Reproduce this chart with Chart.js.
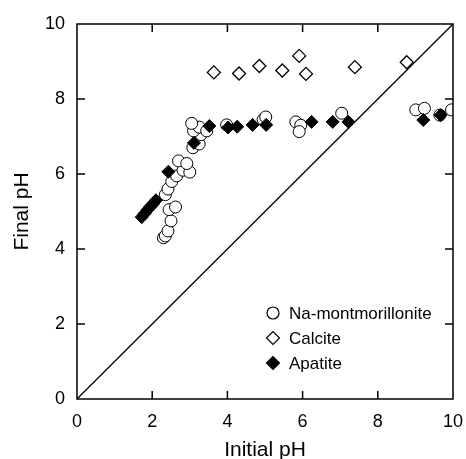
<!DOCTYPE html>
<html>
<head>
<meta charset="utf-8">
<script src="https://cdn.jsdelivr.net/npm/chart.js@4/dist/chart.umd.min.js"></script>
<style>
html,body{margin:0;padding:0;background:#fff;}
#wrap{width:466px;height:459px;}
</style>
</head>
<body>
<div id="wrap"><canvas id="c" width="466" height="459"></canvas></div>
<script>
// ---- data ----
const montX = [2.30,2.35,2.42,2.50,2.45,2.62,2.35,2.42,2.52,2.65,2.82,3.00,2.70,2.92,3.08,3.25,3.30,3.10,3.25,3.05,3.45,3.98,4.95,5.02,5.82,5.95,5.91,7.04,9.01,9.24,9.65,9.96];
const montY = [4.30,4.35,4.48,4.75,5.05,5.12,5.45,5.60,5.80,5.95,6.10,6.05,6.35,6.28,6.70,6.80,7.05,7.15,7.25,7.35,7.15,7.31,7.45,7.52,7.39,7.30,7.13,7.62,7.71,7.75,7.57,7.71];
const calciteX = [3.64,4.31,4.85,5.46,5.91,6.09,7.39,8.77];
const calciteY = [8.71,8.68,8.88,8.76,9.15,8.67,8.85,8.98];
const apatiteX = [1.72,1.80,1.88,1.95,2.02,2.10,2.43,3.11,3.52,4.02,4.26,4.67,5.03,6.24,6.80,7.22,9.21,9.67];
const apatiteY = [4.85,4.95,5.05,5.13,5.20,5.30,6.06,6.83,7.28,7.24,7.26,7.31,7.31,7.39,7.39,7.39,7.44,7.57];
const lineX = [0,10];
const lineY = [0,10];
const tickValues = [0,2,4,6,8,10];
const seriesNames = ['Na-montmorillonite','Calcite','Apatite'];
const xTitle = 'Initial pH';
const yTitle = 'Final pH';

const pts = (xs, ys) => xs.map((x,i)=>({x:x,y:ys[i]}));
const FONT = "'Liberation Sans', Arial, Helvetica, sans-serif";

const framePlugin = {
  id: 'frame',
  afterDatasetsDraw(chart) {
    const {ctx, chartArea: a, scales: {x, y}} = chart;
    ctx.save();
    ctx.strokeStyle = '#000';
    ctx.lineWidth = 1.5;
    ctx.strokeRect(a.left, a.top, a.right - a.left, a.bottom - a.top);
    const L = 8;
    ctx.beginPath();
    tickValues.forEach(v => {
      const px = x.getPixelForValue(v);
      const py = y.getPixelForValue(v);
      if (v !== 0 && v !== 10) {
        ctx.moveTo(px, a.bottom); ctx.lineTo(px, a.bottom - L);
        ctx.moveTo(px, a.top); ctx.lineTo(px, a.top + L);
        ctx.moveTo(a.left, py); ctx.lineTo(a.left + L, py);
        ctx.moveTo(a.right, py); ctx.lineTo(a.right - L, py);
      }
    });
    ctx.stroke();
    // legend
    const items = [
      {style:'circle', fill:'#fff', r:6},
      {style:'rectRot', fill:'#fff', r:6.5},
      {style:'rectRot', fill:'#000', r:6.5}
    ];
    const lx = 273, ly0 = 313, dy = 25;
    ctx.font = '17px ' + FONT;
    ctx.textBaseline = 'middle';
    items.forEach((it, i) => {
      const yy = ly0 + i * dy;
      ctx.fillStyle = it.fill;
      ctx.strokeStyle = '#000';
      ctx.lineWidth = 1.2;
      Chart.helpers.drawPoint(ctx, {pointStyle: it.style, radius: it.r, borderWidth: 1.2, rotation: 0}, lx, yy);
      ctx.fillStyle = '#000';
      ctx.fillText(seriesNames[i], lx + 16, yy + 1);
    });
    ctx.restore();
  }
};

new Chart(document.getElementById('c'), {
  type: 'scatter',
  data: {
    datasets: [
      {label:'line', type:'line', data: pts(lineX,lineY), borderColor:'#000', borderWidth:1.3, pointRadius:0, fill:false, order:4},
      {label: seriesNames[1], data: pts(calciteX,calciteY), pointStyle:'rectRot', pointRadius:6.5, pointBackgroundColor:'#fff', pointBorderColor:'#000', pointBorderWidth:1.3, order:3},
      {label: seriesNames[0], data: pts(montX,montY), pointStyle:'circle', pointRadius:6, pointBackgroundColor:'#fff', pointBorderColor:'#000', pointBorderWidth:1, order:2},
      {label: seriesNames[2], data: pts(apatiteX,apatiteY), pointStyle:'rectRot', pointRadius:6.5, pointBackgroundColor:'#000', pointBorderColor:'#000', pointBorderWidth:1, order:1}
    ]
  },
  options: {
    responsive: false,
    animation: false,
    layout: {padding: {left: 0, right: 13, top: 24, bottom: 0}},
    plugins: {legend: {display:false}, tooltip: {enabled:false}},
    scales: {
      x: {
        type:'linear', min:0, max:10,
        afterBuildTicks: s => { s.ticks = tickValues.map(v=>({value:v})); },
        afterFit: s => { s.height = 60; s.paddingLeft = 0; s.paddingRight = 0; },
        grid: {display:false},
        border: {display:false},
        ticks: {color:'#000', padding:4, font:{family:FONT, size:18}, maxRotation:0},
        title: {display:true, text:xTitle, color:'#000', font:{family:FONT, size:21, lineHeight:1}, padding:{top:0, bottom:-2}}
      },
      y: {
        type:'linear', min:0, max:10,
        afterBuildTicks: s => { s.ticks = tickValues.map(v=>({value:v})); },
        afterFit: s => { s.width = 77; s.paddingTop = 0; s.paddingBottom = 0; },
        grid: {display:false},
        border: {display:false},
        ticks: {color:'#000', padding:4, font:{family:FONT, size:18}},
        title: {display:true, text:yTitle, color:'#000', font:{family:FONT, size:21, lineHeight:1}, padding:{top:12, bottom:0}}
      }
    }
  },
  plugins: [framePlugin]
});
</script>
</body>
</html>
